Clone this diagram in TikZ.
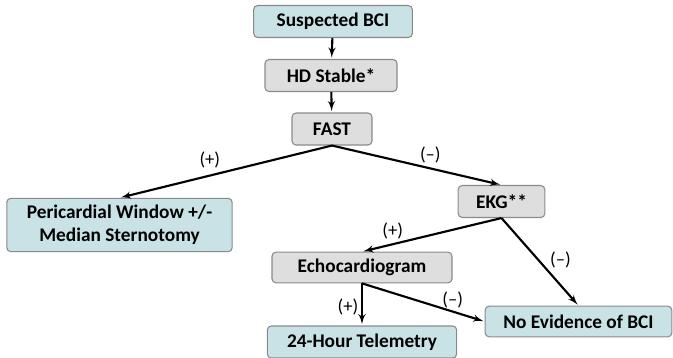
\documentclass[tikz,border=0pt]{standalone}
\usepackage{fontspec}
\setmainfont{Carlito}
\usetikzlibrary{arrows}
\definecolor{boxteal}{HTML}{C8E2E6}
\definecolor{boxgray}{HTML}{DEDEDE}
\definecolor{boxline}{HTML}{8A8A8A}
\begin{document}
\begin{tikzpicture}[x=0.75pt,y=-0.75pt]
		\tikzset{step box/.style = {shape=rectangle,draw=boxline,line width=0.8pt,rounded corners=3pt,font=\fontsize{14.5}{17}\selectfont\bfseries,minimum height=24pt,inner sep=2pt}}
		\tikzset{endbox/.style = {step box,fill=boxteal}}
		\tikzset{testbox/.style = {step box,fill=boxgray}}
		\tikzset{lbl/.style = {font=\fontsize{14}{16}\selectfont,inner sep=1pt}}
		\tikzset{flow/.style = {->,>=latex',line width=1.6pt,shorten >=1pt}}
		\useasboundingbox (0,0) rectangle (673,357);
		\node[endbox,minimum width=119pt] (susp) at (333,21.5) {Suspected BCI};
		\node[testbox,minimum width=99pt] (hd) at (331,75.5) {HD Stable*};
		\node[testbox,minimum width=60pt] (fast) at (332,129) {FAST};
		\node[endbox,minimum width=169pt,minimum height=40pt,align=center] (peri) at (119.5,225) {Pericardial Window +/-\\Median Sternotomy};
		\node[testbox,minimum width=65pt] (ekg) at (501.5,201.5) {EKG**};
		\node[testbox,minimum width=135pt,minimum height=23pt] (echo) at (362,267.5) {Echocardiogram};
		\node[endbox,minimum width=142pt] (tele) at (362,342) {24-Hour Telemetry};
		\node[endbox,minimum width=140pt,minimum height=23pt] (noev) at (578.5,321.5) {No Evidence of BCI};
		\path[flow] (susp) edge (hd);
		\path[flow] (hd) edge (fast);
		\path[flow] (fast.south) edge node[lbl,pos=0.575,above=4pt] {(+)} (peri.north);
		\path[flow] (fast.south) edge node[lbl,pos=0.58,above=2pt] {(–)} (ekg.north);
		\path[flow] (ekg.south) edge node[lbl,pos=0.78,above=2pt] {(+)} (echo.north);
		\path[flow] (ekg.south) edge node[lbl,pos=0.48,right=7pt] {(–)} (noev.north);
		\path[flow] (echo.south) edge node[lbl,pos=0.57,left=1pt] {(+)} (tele.north);
		\path[flow] (echo.south) edge node[lbl,pos=0.74,above=1pt] {(–)} (noev.west);
	\end{tikzpicture}
\end{document}
